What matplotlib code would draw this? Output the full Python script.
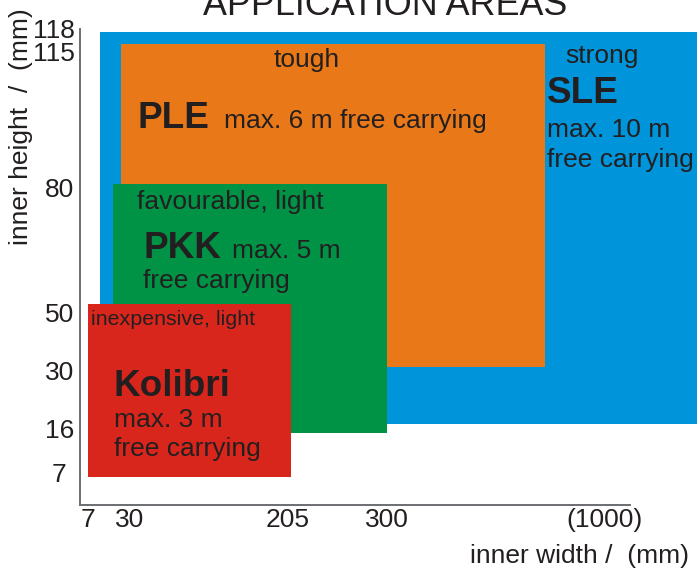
"""
Application areas chart - product ranges by inner width and inner height.
"""

import numpy as np
import matplotlib
matplotlib.use('Agg')
import matplotlib.pyplot as plt

plt.rcParams['font.family'] = ['Liberation Sans', 'DejaVu Sans']

# Axis ticks (mm)
X_TICKS = [7, 30, 205, 300, 1000]
X_TICK_LABELS = ['7', '30', '205', '300', '(1000)']
Y_TICKS = [7, 16, 30, 50, 80, 115, 118]
Y_TICK_LABELS = ['7 ', '16', '30', '50', '80', '115', '118']

# Product ranges (mm), drawn back to front
PRODUCTS = ['SLE', 'PLE', 'PKK', 'Kolibri']
WIDTH_MIN = [14, 25, 21, 7]
WIDTH_MAX = [1320, 810, 300, 208]
HEIGHT_MIN = [17, 31, 15, 6]
HEIGHT_MAX = [117.6, 116, 81, 52]

# Layout (pixels) - the axis is schematic, ticks sit at fixed spots
W, H = 697, 571
X_TICK_PX = [87.5, 130, 288, 387, 604]
Y_TICK_PX = [472, 428, 370, 312, 187, 51, 28]


def _piecewise(values, positions):
    """Forward/inverse functions for a piecewise linear axis."""
    v = np.asarray(values, float)
    p = np.asarray(positions, float)

    def _map(x, a, b):
        x = np.asarray(x, float)
        out = np.interp(x, a, b)
        lo = (b[1] - b[0]) / (a[1] - a[0])
        hi = (b[-1] - b[-2]) / (a[-1] - a[-2])
        out = np.where(x < a[0], b[0] + (x - a[0]) * lo, out)
        out = np.where(x > a[-1], b[-1] + (x - a[-1]) * hi, out)
        return out

    return (lambda x: _map(x, v, p)), (lambda x: _map(x, p, v))


def create_chart(output_path='out.png'):
    colors = {
        'SLE': '#0095da',
        'PLE': '#e87818',
        'PKK': '#009245',
        'Kolibri': '#d9261c',
        'text': '#231f20',
        'axis': '#6d6e71',
    }

    fig = plt.figure(figsize=(W / 100, H / 100), dpi=100)
    ax = fig.add_axes([80 / W, 1 - 505 / H, (697 - 80) / W, (505 - 29) / H])
    ax.patch.set_alpha(0)

    fx, ix = _piecewise(X_TICKS, X_TICK_PX)
    fy, iy = _piecewise(Y_TICKS, [H - p for p in Y_TICK_PX])
    ax.set_xscale('function', functions=(fx, ix))
    ax.set_yscale('function', functions=(fy, iy))
    ax.set_xlim(float(ix(80)), float(ix(697)))
    ax.set_ylim(float(iy(H - 505)), float(iy(H - 29)))

    for name, x0, x1, y0, y1 in zip(PRODUCTS, WIDTH_MIN, WIDTH_MAX, HEIGHT_MIN, HEIGHT_MAX):
        ax.bar(x0, y1 - y0, width=x1 - x0, bottom=y0, align='edge',
               color=colors[name], linewidth=0)

    ax.set_xticks(X_TICKS, X_TICK_LABELS)
    ax.set_yticks(Y_TICKS, Y_TICK_LABELS)
    ax.minorticks_off()
    ax.tick_params(length=0, labelsize=19, labelcolor=colors['text'])
    ax.tick_params(axis='x', pad=2)
    ax.tick_params(axis='y', pad=4)

    for side in ('top', 'right'):
        ax.spines[side].set_visible(False)
    for side in ('left', 'bottom'):
        ax.spines[side].set_color(colors['axis'])
        ax.spines[side].set_linewidth(1.4)
    ax.spines['bottom'].set_bounds(float(ix(80)), float(ix(630)))

    def put(x, y, s, size=19, **kw):
        fig.text(x / W, 1 - y / H, s, fontsize=size, color=colors['text'],
                 va='baseline', **kw)

    # Title (partly cut off at the top, as in the source)
    put(385, 15, 'APPLICATION AREAS', size=25.8, ha='center')

    # Axis labels
    put(689, 563, 'inner width /  (mm)', ha='right')
    fig.text(21 / W, 1 - 127 / H, 'inner height  /  (mm)', fontsize=19,
             color=colors['text'], rotation=90, ha='center', va='center')

    # SLE
    put(565, 63, 'strong')
    put(547, 103, 'SLE', size=26.6, fontweight='bold')
    put(547, 137, 'max. 10 m')
    put(547, 167, 'free carrying')

    # PLE
    put(307, 67, 'tough', ha='center')
    put(137, 128, 'PLE', size=26.6, fontweight='bold')
    put(224, 128, 'max. 6 m free carrying')

    # PKK
    put(137, 209, 'favourable, light')
    put(143, 258, 'PKK', size=26.6, fontweight='bold')
    put(232, 258, 'max. 5 m')
    put(143, 288, 'free carrying')

    # Kolibri
    put(91, 325, 'inexpensive, light', size=15.4)
    put(114, 396, 'Kolibri', size=26.6, fontweight='bold')
    put(114, 427, 'max. 3 m')
    put(114, 456, 'free carrying')

    fig.savefig(output_path, dpi=100, facecolor='white')
    plt.close(fig)
    return output_path


if __name__ == '__main__':
    create_chart('out.png')
